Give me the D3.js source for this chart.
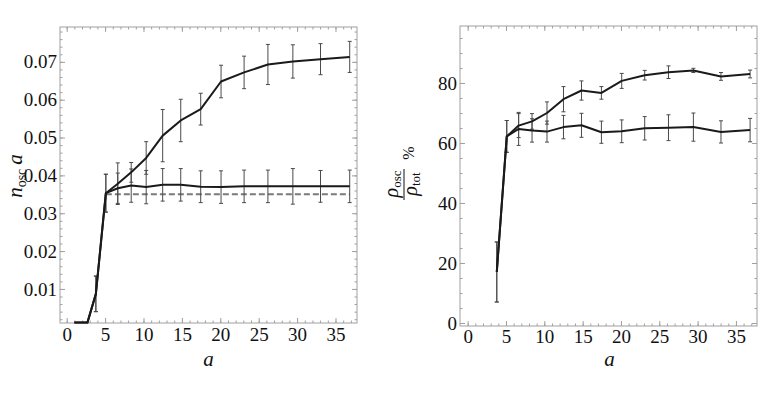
<!DOCTYPE html>
<html>
<head>
<meta charset="utf-8">
<script src="https://cdn.jsdelivr.net/npm/d3@7"></script>
<style>
  body { margin: 0; background: #fff; }
  svg { display: block; }
  svg text { font-family: 'Liberation Serif', 'Times New Roman', 'DejaVu Serif', serif; }
</style>
</head>
<body>
<div id="chart"></div>
<script>
(function () {
    // lattice sizes a (left panel); right panel starts at the 4th point
    var aValues = [1, 1.8, 2.7, 3.8, 5.1, 6.65, 8.4, 10.35, 12.5, 14.85, 17.45, 20.1, 23.1, 26.2, 29.45, 33.05, 36.85];

    // left panel: n_osc a
    var nUpper    = [0.0011, 0.0011, 0.0011, 0.0087, 0.0353, 0.0378, 0.0408, 0.0446, 0.0505, 0.0545, 0.0575, 0.0648, 0.0672, 0.0693, 0.0701, 0.0707, 0.0713];
    var nUpperErr = [0, 0, 0, 0.0047, 0.0050, 0.0055, 0.0026, 0.0043, 0.0069, 0.0056, 0.0042, 0.0043, 0.0043, 0.0053, 0.0044, 0.0041, 0.0041];
    var nLower    = [0.0011, 0.0011, 0.0011, 0.0087, 0.0353, 0.0366, 0.0373, 0.0369, 0.0375, 0.0375, 0.0370, 0.0369, 0.0371, 0.0371, 0.0371, 0.0371, 0.0371];
    var nLowerErr = [0, 0, 0, 0.0047, 0.0050, 0.0040, 0.0044, 0.0044, 0.0043, 0.0043, 0.0042, 0.0043, 0.0043, 0.0043, 0.0047, 0.0042, 0.0043];
    var nDashed   = 0.035;

    // right panel: rho_osc / rho_tot in %
    var aRight      = aValues.slice(3);
    var rhoUpper    = [17.0, 62.2, 65.8, 67.2, 70.0, 74.6, 77.5, 76.7, 80.7, 82.6, 83.6, 84.2, 82.2, 83.0];
    var rhoUpperErr = [10, 5.3, 4.0, 2.6, 3.7, 4.2, 3.2, 2.1, 2.5, 1.6, 2.1, 0.7, 1.3, 1.3];
    var rhoLower    = [17.0, 62.2, 64.7, 64.2, 63.8, 65.3, 65.9, 63.6, 63.9, 64.9, 65.1, 65.3, 63.7, 64.3];
    var rhoLowerErr = [10, 5.3, 5.5, 3.9, 3.5, 3.9, 4.0, 3.7, 3.8, 3.9, 4.3, 4.7, 3.7, 3.9];

    // ticks
    var xMajor = [0, 5, 10, 15, 20, 25, 30, 35];
    var xMinor = d3.range(0, 38, 1);
    var nMajor = [0.01, 0.02, 0.03, 0.04, 0.05, 0.06, 0.07];
    var nMinor = d3.range(0.002, 0.079, 0.002);
    var rhoMajor = [0, 20, 40, 60, 80];
    var rhoMinor = d3.range(0, 99, 5);

    var serif = "'Liberation Serif', 'Times New Roman', 'DejaVu Serif', serif";
    var frameColor = '#a0a0a0';

    var svg = d3.select('#chart')
        .append('svg')
            .attr('width', 761)
            .attr('height', 398);

    function zip(xs, ys) {
        return xs.map(function (d, i) { return [d, ys[i]]; });
    }

    function drawPanel(p) {
        var x = d3.scaleLinear().domain(p.xDomain).range(p.xRange);
        var y = d3.scaleLinear().domain(p.yDomain).range(p.yRange);
        var g = svg.append('g');
        var x0 = p.xRange[0], x1 = p.xRange[1], y0 = p.yRange[0], y1 = p.yRange[1];

        // frame ticks, pointing inward on all sides
        function styleAxis(sel) {
            sel.attr('font-family', serif);
            sel.select('.domain').remove();
            sel.selectAll('line').attr('stroke', frameColor);
            sel.selectAll('text').attr('font-size', 19).attr('fill', '#111');
        }
        g.append('g').attr('transform', 'translate(0,' + y0 + ')')
            .call(d3.axisBottom(x).tickValues(xMinor).tickSize(-2.5).tickFormat(''))
            .call(styleAxis);
        g.append('g').attr('transform', 'translate(0,' + y0 + ')')
            .call(d3.axisBottom(x).tickValues(xMajor).tickSize(-5).tickPadding(p.xPad).tickFormat(d3.format('d')))
            .call(styleAxis);
        g.append('g').attr('transform', 'translate(0,' + y1 + ')')
            .call(d3.axisTop(x).tickValues(xMinor).tickSize(-2.5).tickFormat(''))
            .call(styleAxis);
        g.append('g').attr('transform', 'translate(0,' + y1 + ')')
            .call(d3.axisTop(x).tickValues(xMajor).tickSize(-5).tickFormat(''))
            .call(styleAxis);
        g.append('g').attr('transform', 'translate(' + x0 + ',0)')
            .call(d3.axisLeft(y).tickValues(p.yMinor).tickSize(-2.5).tickFormat(''))
            .call(styleAxis);
        g.append('g').attr('transform', 'translate(' + x0 + ',0)')
            .call(d3.axisLeft(y).tickValues(p.yMajor).tickSize(-5).tickPadding(3).tickFormat(p.yFormat))
            .call(styleAxis);
        g.append('g').attr('transform', 'translate(' + x1 + ',0)')
            .call(d3.axisRight(y).tickValues(p.yMinor).tickSize(-2.5).tickFormat(''))
            .call(styleAxis);
        g.append('g').attr('transform', 'translate(' + x1 + ',0)')
            .call(d3.axisRight(y).tickValues(p.yMajor).tickSize(-5).tickFormat(''))
            .call(styleAxis);

        g.append('rect')
            .attr('x', x0).attr('y', y1)
            .attr('width', x1 - x0).attr('height', y0 - y1)
            .attr('fill', 'none')
            .attr('stroke', frameColor)
            .attr('stroke-width', 1);

        var line = d3.line()
            .x(function (d) { return x(d[0]); })
            .y(function (d) { return y(d[1]); });

        if (p.dashed !== undefined) {
            g.append('path')
                .datum([[p.dashFrom, p.dashed], [p.xs[p.xs.length - 1], p.dashed]])
                .attr('d', line)
                .attr('fill', 'none')
                .attr('stroke', '#7a7a7a')
                .attr('stroke-width', 2)
                .attr('stroke-dasharray', '6,3');
        }

        p.series.forEach(function (s) {
            var pts = p.xs.map(function (d, i) { return { a: d, v: s.v[i], e: s.e[i] }; })
                .filter(function (d) { return d.e > 0; });
            var bars = g.append('g')
                .attr('stroke', '#4a4a4a')
                .attr('stroke-width', 1)
                .selectAll('g')
                .data(pts)
                .enter()
                .append('g');
            bars.append('line')
                .attr('x1', function (d) { return x(d.a); })
                .attr('x2', function (d) { return x(d.a); })
                .attr('y1', function (d) { return y(d.v - d.e); })
                .attr('y2', function (d) { return y(d.v + d.e); });
            bars.append('line')
                .attr('x1', function (d) { return x(d.a) - 2; })
                .attr('x2', function (d) { return x(d.a) + 2; })
                .attr('y1', function (d) { return y(d.v - d.e); })
                .attr('y2', function (d) { return y(d.v - d.e); });
            bars.append('line')
                .attr('x1', function (d) { return x(d.a) - 2; })
                .attr('x2', function (d) { return x(d.a) + 2; })
                .attr('y1', function (d) { return y(d.v + d.e); })
                .attr('y2', function (d) { return y(d.v + d.e); });
        });

        p.series.forEach(function (s) {
            g.append('path')
                .datum(zip(p.xs, s.v))
                .attr('d', line)
                .attr('fill', 'none')
                .attr('stroke', '#1a1a1a')
                .attr('stroke-width', 2)
                .attr('stroke-linejoin', 'round');
        });

        // x label
        g.append('text')
            .attr('x', (x0 + x1) / 2 + p.xLabelShift)
            .attr('y', 366)
            .attr('text-anchor', 'middle')
            .attr('font-style', 'italic')
            .attr('font-size', 21)
            .attr('fill', '#111')
            .text('a');
    }

    drawPanel({
        xs: aValues,
        xDomain: [-0.87, 37.8], xRange: [60, 357],
        yDomain: [0.001, 0.0792], yRange: [323, 27],
        yMajor: nMajor, yMinor: nMinor,
        yFormat: d3.format('.2f'),
        xPad: 5,
        xLabelShift: 0,
        series: [
            { v: nUpper, e: nUpperErr },
            { v: nLower, e: nLowerErr }
        ],
        dashed: nDashed,
        dashFrom: 5.1
    });

    drawPanel({
        xs: aRight,
        xDomain: [-1, 37.75], xRange: [460, 757],
        yDomain: [-1, 99], yRange: [326, 26],
        yMajor: rhoMajor, yMinor: rhoMinor,
        yFormat: d3.format('d'),
        xPad: 3,
        xLabelShift: 1,
        series: [
            { v: rhoUpper, e: rhoUpperErr },
            { v: rhoLower, e: rhoLowerErr }
        ]
    });

    // left y label: n_osc a
    var yl = svg.append('text')
        .attr('transform', 'translate(22,176) rotate(-90)')
        .attr('text-anchor', 'middle')
        .attr('font-size', 21)
        .attr('fill', '#111');
    yl.append('tspan').attr('font-style', 'italic').text('n');
    yl.append('tspan').attr('font-size', 14).attr('dy', 4).text('osc');
    yl.append('tspan').attr('font-style', 'italic').attr('dy', -4).attr('dx', 4).text('a');

    // right y label: rho_osc / rho_tot %
    var fr = svg.append('g')
        .attr('transform', 'translate(404,184) rotate(-90)')
        .attr('fill', '#111');
    fr.append('line')
        .attr('x1', -16).attr('x2', 15)
        .attr('y1', 0).attr('y2', 0)
        .attr('stroke', '#111').attr('stroke-width', 1);
    var num = fr.append('text').attr('x', 0).attr('y', -6).attr('text-anchor', 'middle').attr('font-size', 20);
    num.append('tspan').attr('font-style', 'italic').text('ρ');
    num.append('tspan').attr('font-size', 13).attr('dy', 3).text('osc');
    var den = fr.append('text').attr('x', 0).attr('y', 13).attr('text-anchor', 'middle').attr('font-size', 20);
    den.append('tspan').attr('font-style', 'italic').text('ρ');
    den.append('tspan').attr('font-size', 13).attr('dy', 3).text('tot');
    fr.append('text')
        .attr('x', 31).attr('y', 10)
        .attr('text-anchor', 'middle')
        .attr('font-size', 16)
        .text('%');
})();
</script>
</body>
</html>
